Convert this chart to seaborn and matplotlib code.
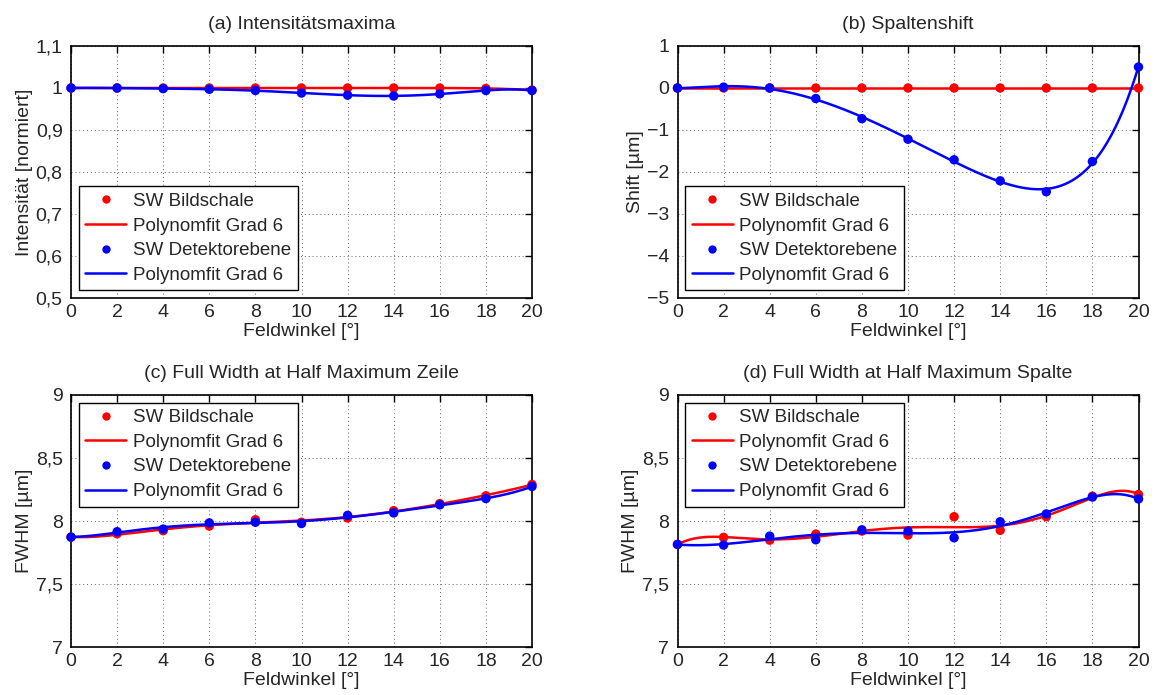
import numpy as np
import pandas as pd
import matplotlib
matplotlib.use("Agg")
import matplotlib.pyplot as plt
from matplotlib.ticker import FuncFormatter
from matplotlib.lines import Line2D
import seaborn as sns

# Field angles (degrees)
angles = [0, 2, 4, 6, 8, 10, 12, 14, 16, 18, 20]

# (a) normalised intensity maxima
int_bildschale = [1.0, 1.0, 1.0, 1.0, 1.0, 1.0, 1.0, 1.0, 1.0, 0.999, 0.995]
int_detektor = [1.0, 1.0, 0.9985, 0.997, 0.994, 0.988, 0.983, 0.981, 0.986, 0.994, 0.994]

# (b) column shift in µm
shift_bildschale = [0, 0, 0, 0, 0, 0, 0, 0, 0, 0, 0]
shift_detektor = [0.0, 0.02, 0.0, -0.25, -0.73, -1.22, -1.71, -2.21, -2.47, -1.75, 0.5]

# (c) FWHM row in µm
fwhm_zeile_bildschale = [7.872, 7.899, 7.923, 7.96, 8.01, 7.99, 8.024, 8.082, 8.138, 8.2, 8.29]
fwhm_zeile_detektor = [7.872, 7.915, 7.936, 7.985, 7.99, 7.98, 8.045, 8.064, 8.128, 8.178, 8.274]

# (d) FWHM column in µm
fwhm_spalte_bildschale = [7.814, 7.87, 7.848, 7.896, 7.92, 7.888, 8.034, 7.926, 8.034, 8.197, 8.21]
fwhm_spalte_detektor = [7.814, 7.809, 7.88, 7.851, 7.93, 7.92, 7.867, 7.994, 8.056, 8.19, 8.175]

titles = ["(a) Intensitätsmaxima", "(b) Spaltenshift",
          "(c) Full Width at Half Maximum Zeile", "(d) Full Width at Half Maximum Spalte"]
ylabels = ["Intensität [normiert]", "Shift [µm]", "FWHM [µm]", "FWHM [µm]"]
xlabel = "Feldwinkel [°]"
label_points_a = "SW Bildschale"
label_points_b = "SW Detektorebene"
label_fit = "Polynomfit Grad 6"
fit_degree = 6

sns.set_style("white")
plt.rcParams["font.family"] = ["Liberation Sans", "DejaVu Sans"]
plt.rcParams["font.size"] = 14
plt.rcParams["axes.unicode_minus"] = True

W, H = 1158, 695
fig = plt.figure(figsize=(W / 100, H / 100), dpi=100)


def px_axes(x0, x1, y0, y1):
    return fig.add_axes([x0 / W, 1 - y1 / H, (x1 - x0) / W, (y1 - y0) / H])


ax_a = px_axes(71, 532, 46, 298)
ax_b = px_axes(677.5, 1138.5, 46, 298)
ax_c = px_axes(71, 532, 395, 647)
ax_d = px_axes(677.5, 1138.5, 395, 647)

panels = [
    (ax_a, int_bildschale, int_detektor, (0.5, 1.1), np.arange(0.5, 1.101, 0.1), "lower left"),
    (ax_b, shift_bildschale, shift_detektor, (-5, 1), np.arange(-5, 1.01, 1), "lower left"),
    (ax_c, fwhm_zeile_bildschale, fwhm_zeile_detektor, (7, 9), np.arange(7, 9.01, 0.5), "upper left"),
    (ax_d, fwhm_spalte_bildschale, fwhm_spalte_detektor, (7, 9), np.arange(7, 9.01, 0.5), "upper left"),
]

comma = FuncFormatter(lambda v, pos: ("%g" % round(v, 6)).replace(".", ",").replace("-", "\u2212"))

x_arr = np.array(angles, dtype=float)
x_fine = np.linspace(0, 20, 400)

for i, (ax, ya, yb, ylim, yticks, loc) in enumerate(panels):
    handles = []
    for yvals, color, plabel in [(ya, "#ff0000", label_points_a), (yb, "#0000ff", label_points_b)]:
        coef = np.polyfit(x_arr, np.array(yvals, dtype=float), fit_degree)
        fit_df = pd.DataFrame({"x": x_fine, "y": np.polyval(coef, x_fine)})
        pts_df = pd.DataFrame({"x": x_arr, "y": yvals})
        sns.scatterplot(data=pts_df, x="x", y="y", ax=ax, color=color, s=46,
                        edgecolor="none", zorder=3, legend=False, clip_on=False)
        sns.lineplot(data=fit_df, x="x", y="y", ax=ax, color=color, linewidth=1.8,
                     estimator=None, sort=False, zorder=3, legend=False)
        handles.append(Line2D([], [], linestyle="none", marker="o", markersize=6,
                              markerfacecolor=color, markeredgecolor="none"))
        handles.append(Line2D([], [], color=color, linewidth=1.8))
    ax.set_xlim(0, 20)
    ax.set_ylim(*ylim)
    ax.set_xticks(angles)
    ax.set_yticks(yticks)
    ax.yaxis.set_major_formatter(comma)
    ax.set_title(titles[i], fontsize=14, pad=12)
    ax.set_xlabel(xlabel, fontsize=14, labelpad=2)
    ax.set_ylabel(ylabels[i], fontsize=14, labelpad=2)
    ax.grid(True, color="0.4", linestyle=(0, (1, 3)), linewidth=0.7)
    ax.tick_params(direction="in", length=5, width=1, top=True, right=True,
                   labelsize=14, pad=4, color="black")
    ax.tick_params(axis="y", pad=6)
    for sp in ax.spines.values():
        sp.set_color("black")
        sp.set_linewidth(1.2)
        sp.set_visible(True)
    leg = ax.legend(handles, [label_points_a, label_fit, label_points_b, label_fit],
                    loc=loc, fontsize=13.5, frameon=True, fancybox=False,
                    framealpha=1, edgecolor="black", borderaxespad=0.4,
                    handlelength=2.2, handletextpad=0.35, labelspacing=0.4,
                    borderpad=0.35)
    leg.get_frame().set_linewidth(1.0)

fig.savefig("out.png", dpi=100)
